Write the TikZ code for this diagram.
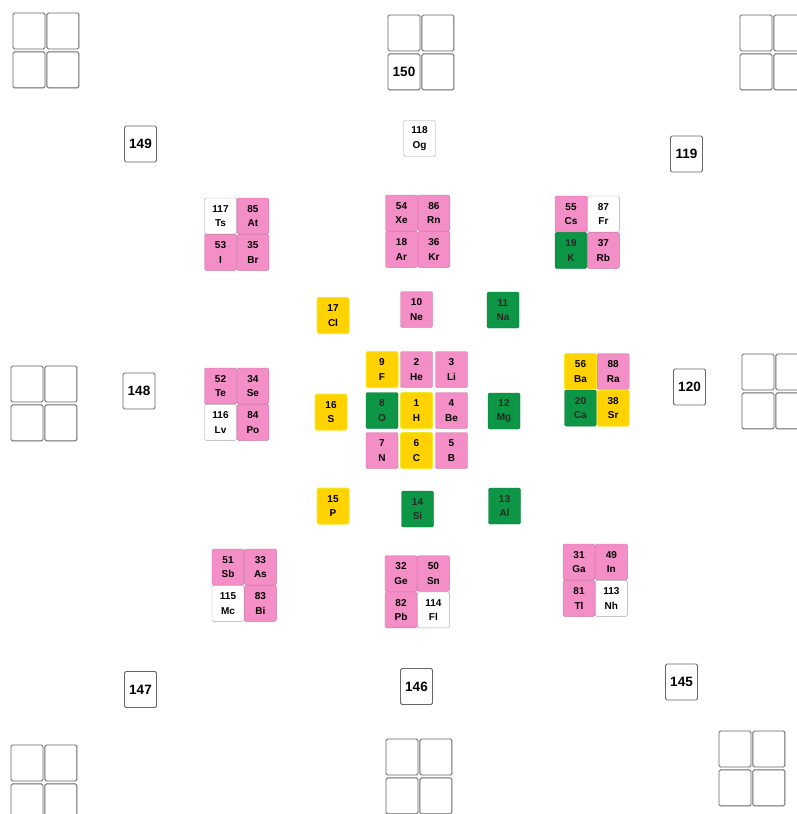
\documentclass[tikz,border=0pt]{standalone}
\usepackage{fontspec}
\setmainfont{Liberation Sans}
\usetikzlibrary{positioning}

\definecolor{elpink}{RGB}{244,142,198}
\definecolor{elpinkedge}{RGB}{200,115,160}
\definecolor{elgreen}{RGB}{12,150,70}
\definecolor{elyellow}{RGB}{255,210,0}
\definecolor{elyellowedge}{RGB}{238,235,40}

\begin{document}
\begin{tikzpicture}[
    x=1pt, y=-1pt,
    cell/.style={rectangle, rounded corners=1.5pt, minimum width=32pt, minimum height=36pt, inner sep=0pt, align=center, font=\bfseries\fontsize{10}{14.5}\selectfont},
    pinkcell/.style={cell, fill=elpink, draw=elpinkedge},
    greencell/.style={cell, fill=elgreen, draw=elgreen!80!black, text=black!85},
    yellowcell/.style={cell, fill=elyellow, draw=elyellowedge, line width=1pt},
    whitecell/.style={cell, fill=white, draw=gray!70},
    emptycell/.style={cell, fill=white, draw=black!60, line width=0.9pt, font=\bfseries\fontsize{13.5}{15}\selectfont}
]
    \clip (0,0) rectangle (797,814);

    % Empty 2x2 blocks
    \node[emptycell] (tla) at (29,31) {};
    \node[emptycell, right=1pt of tla] (tlb) {};
    \node[emptycell, below=2pt of tla] (tlc) {};
    \node[emptycell, right=1pt of tlc] (tld) {};

    \node[emptycell] (tca) at (404,33) {};
    \node[emptycell, right=1pt of tca] (tcb) {};
    \node[emptycell, below=2pt of tca] (tcc) {150};
    \node[emptycell, right=1pt of tcc] (tcd) {};

    \node[emptycell] (tra) at (756,33) {};
    \node[emptycell, right=1pt of tra] (trb) {};
    \node[emptycell, below=2pt of tra] (trc) {};
    \node[emptycell, right=1pt of trc] (trd) {};

    \node[emptycell] (mla) at (27,384) {};
    \node[emptycell, right=1pt of mla] (mlb) {};
    \node[emptycell, below=2pt of mla] (mlc) {};
    \node[emptycell, right=1pt of mlc] (mld) {};

    \node[emptycell] (mra) at (758,372) {};
    \node[emptycell, right=1pt of mra] (mrb) {};
    \node[emptycell, below=2pt of mra] (mrc) {};
    \node[emptycell, right=1pt of mrc] (mrd) {};

    \node[emptycell] (bla) at (27,763) {};
    \node[emptycell, right=1pt of bla] (blb) {};
    \node[emptycell, below=2pt of bla] (blc) {};
    \node[emptycell, right=1pt of blc] (bld) {};

    \node[emptycell] (bca) at (402,757) {};
    \node[emptycell, right=1pt of bca] (bcb) {};
    \node[emptycell, below=2pt of bca] (bcc) {};
    \node[emptycell, right=1pt of bcc] (bcd) {};

    \node[emptycell] (bra) at (735,749) {};
    \node[emptycell, right=1pt of bra] (brb) {};
    \node[emptycell, below=2pt of bra] (brc) {};
    \node[emptycell, right=1pt of brc] (brd) {};

    % Empty single boxes
    \node[emptycell] (e149) at (140.5,144) {149};
    \node[emptycell] (e119) at (686.5,154) {119};
    \node[emptycell] (e148) at (139,391) {148};
    \node[emptycell] (e120) at (689.5,387) {120};
    \node[emptycell] (e147) at (140.5,689.5) {147};
    \node[emptycell] (e146) at (416.5,686.5) {146};
    \node[emptycell] (e145) at (681.5,682) {145};
    \node[whitecell] (og) at (419.5,138.5) {118\\Og};

    % Group quads
    \node[whitecell] (ts) at (220.5,216) {117\\Ts};
    \node[pinkcell, right=0pt of ts] (at) {85\\At};
    \node[pinkcell, below=0pt of ts] (i) {53\\I};
    \node[pinkcell, right=0pt of i] (br) {35\\Br};

    \node[pinkcell] (xe) at (401.5,213) {54\\Xe};
    \node[pinkcell, right=0pt of xe] (rn) {86\\Rn};
    \node[pinkcell, below=0pt of xe] (ar) {18\\Ar};
    \node[pinkcell, right=0pt of ar] (kr) {36\\Kr};

    \node[pinkcell] (cs) at (571,214) {55\\Cs};
    \node[whitecell, right=0pt of cs] (fr) {87\\Fr};
    \node[greencell, below=0pt of cs] (k) {19\\K};
    \node[pinkcell, right=0pt of k] (rb) {37\\Rb};

    \node[pinkcell] (te) at (220.5,386) {52\\Te};
    \node[pinkcell, right=0pt of te] (se) {34\\Se};
    \node[whitecell, below=0pt of te] (lv) {116\\Lv};
    \node[pinkcell, right=0pt of lv] (po) {84\\Po};

    \node[yellowcell] (ba) at (580.5,371.5) {56\\Ba};
    \node[pinkcell, right=0pt of ba] (ra) {88\\Ra};
    \node[greencell, below=0pt of ba] (ca) {20\\Ca};
    \node[yellowcell, right=0pt of ca] (sr) {38\\Sr};

    \node[pinkcell] (sb) at (228,567) {51\\Sb};
    \node[pinkcell, right=0pt of sb] (as) {33\\As};
    \node[whitecell, below=0pt of sb] (mc) {115\\Mc};
    \node[pinkcell, right=0pt of mc] (bi) {83\\Bi};

    \node[pinkcell] (ge) at (401,573.5) {32\\Ge};
    \node[pinkcell, right=0pt of ge] (sn) {50\\Sn};
    \node[pinkcell, below=0pt of ge] (pb) {82\\Pb};
    \node[whitecell, right=0pt of pb] (fl) {114\\Fl};

    \node[pinkcell] (ga) at (579,562) {31\\Ga};
    \node[pinkcell, right=0pt of ga] (in) {49\\In};
    \node[pinkcell, below=0pt of ga] (tl) {81\\Tl};
    \node[whitecell, right=0pt of tl] (nh) {113\\Nh};

    % Second ring
    \node[yellowcell] (cl) at (333,315.5) {17\\Cl};
    \node[pinkcell] (ne) at (416.5,309.5) {10\\Ne};
    \node[greencell] (na) at (503,310) {11\\Na};
    \node[yellowcell] (s) at (331,412) {16\\S};
    \node[greencell] (mg) at (504,411) {12\\Mg};
    \node[yellowcell] (p) at (333,506) {15\\P};
    \node[greencell] (si) at (417.5,509) {14\\Si};
    \node[greencell] (al) at (504.5,506) {13\\Al};

    % Centre
    \node[yellowcell] (f) at (382,369.5) {9\\F};
    \node[pinkcell] (he) at (416.5,369.5) {2\\He};
    \node[pinkcell] (li) at (451.5,369.5) {3\\Li};
    \node[greencell] (o) at (382,410.5) {8\\O};
    \node[yellowcell] (h) at (416.5,410.5) {1\\H};
    \node[pinkcell] (be) at (451.5,410.5) {4\\Be};
    \node[pinkcell] (n) at (382,450.5) {7\\N};
    \node[yellowcell] (c) at (416.5,450.5) {6\\C};
    \node[pinkcell] (b) at (451.5,450.5) {5\\B};

\end{tikzpicture}
\end{document}
